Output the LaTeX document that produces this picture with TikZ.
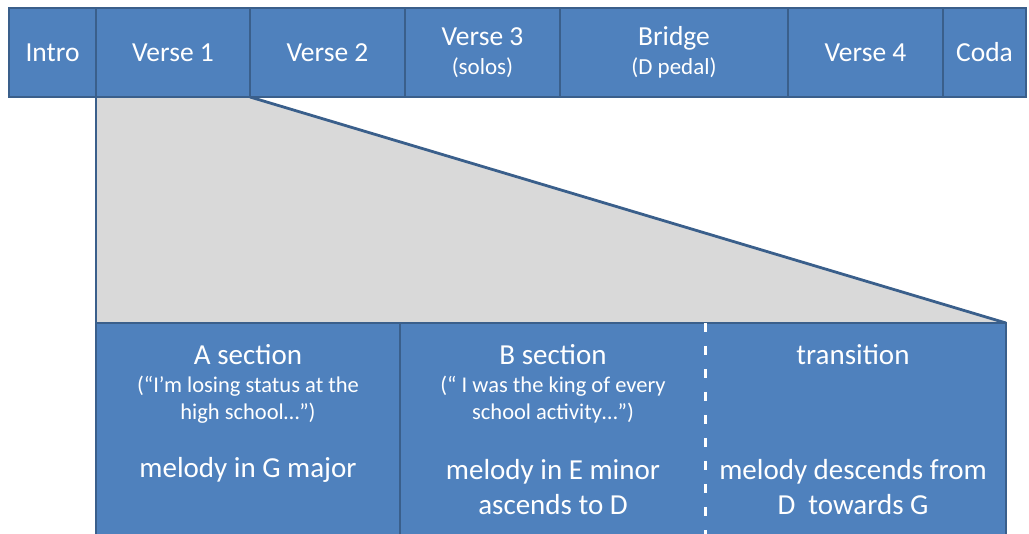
\documentclass[tikz,border=0pt]{standalone}
\usepackage{fontspec}
\setmainfont{Carlito}
\usetikzlibrary{backgrounds}
\definecolor{fillblue}{HTML}{4F81BD}
\definecolor{edgeblue}{HTML}{3A5F8B}
\definecolor{panelgrey}{HTML}{D9D9D9}
\newcommand{\smalltxt}{\fontsize{23}{27}\selectfont}
\begin{document}
\begin{tikzpicture}[x=1pt,y=-1pt,
  edge/.style={draw=edgeblue, line width=2.8pt},
  seg/.style={edge, fill=fillblue, minimum height=89pt, inner sep=0pt, outer sep=0pt,
    text=white, align=center, font=\fontsize{27.5}{30}\selectfont},
  panel/.style={fill=fillblue, inner sep=0pt, outer sep=0pt, minimum height=220pt, anchor=north west},
  title/.style={text=white, align=center, inner sep=0pt, font=\fontsize{29}{35}\selectfont},
  quote/.style={text=white, align=center, inner sep=0pt, font=\fontsize{22.5}{27}\selectfont},
  divider/.style={white, line width=3pt, dash pattern=on 9pt off 14pt}]
\useasboundingbox (0,0) rectangle (1029,534);
\clip (0,0) rectangle (1029,534);
% top bar
\node[seg, minimum width=87pt]  (intro)  at (52.5,52.5)  {Intro};
\node[seg, minimum width=154pt] (v1)     at (173,52.5)   {Verse 1};
\node[seg, minimum width=155pt] (v2)     at (327.5,52.5) {Verse 2};
\node[seg, minimum width=155pt] (v3)     at (482.5,52.5) {Verse 3\\[-1pt]{\smalltxt (solos)}};
\node[seg, minimum width=228pt] (bridge) at (674,52.5)   {Bridge\\[-1pt]{\smalltxt (D pedal)}};
\node[seg, minimum width=155pt] (v4)     at (865.5,52.5) {Verse 4};
\node[seg, minimum width=83pt]  (coda)   at (984.5,52.5) {Coda};
% bottom panel
\node[panel, minimum width=304pt] (asec) at (96,323)  {};
\node[panel, minimum width=305pt] (bsec) at (400,323) {};
\node[panel, minimum width=301pt] (tsec) at (705,323) {};
\draw[edge] (asec.north west) rectangle (tsec.south east);
\draw[edge] (asec.north east) -- (asec.south east);
\draw[divider] (bsec.north east) -- (bsec.south east);
% zoom wedge
\begin{scope}[on background layer]
\fill[panelgrey] (v1.south west) -- (v1.south east) -- (tsec.north east) -- (asec.north west) -- cycle;
\draw[edge] (v1.south east) -- (tsec.north east);
\end{scope}
\draw[edge] (v1.south west) -- (asec.north west);
% texts
\node[title] (atitle) at (248,355) {A section};
\node[quote] (aquote) at (248,400) {(“I’m losing status at the\\high school…”)};
\node[title] (amel)   at (248,470) {melody in G major};
\node[title] (btitle) at (553,355) {B section};
\node[quote] (bquote) at (553,400) {(“ I was the king of every\\school activity…”)};
\node[title] (bmel)   at (553,487) {melody in E minor\\ascends to D};
\node[title] (ttitle) at (853,355) {transition};
\node[title] (tmel)   at (853,487) {melody descends from\\D\ \ towards G};
\end{tikzpicture}
\end{document}
